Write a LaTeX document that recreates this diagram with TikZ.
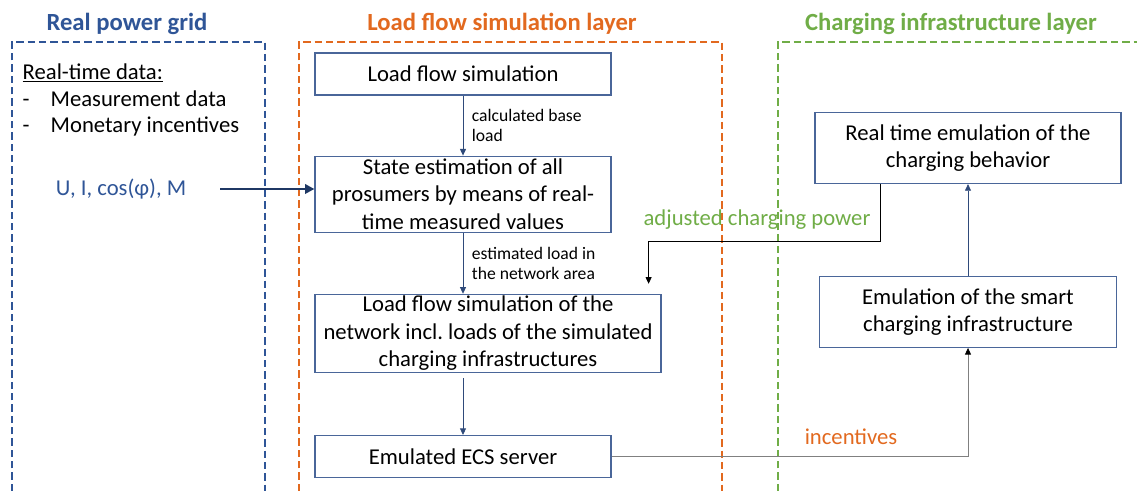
\documentclass[tikz,border=0pt]{standalone}
\usepackage{fontspec}
\setmainfont{Carlito}
\usetikzlibrary{positioning, arrows.meta}

\definecolor{gridblue}{HTML}{2F5597}
\definecolor{simorange}{HTML}{E2691F}
\definecolor{chargreen}{HTML}{70AD47}
\definecolor{boxblue}{HTML}{4A6699}
\definecolor{arrowblue}{HTML}{2F4A7A}
\definecolor{feednavy}{HTML}{1F3864}

\tikzset{
  block/.style={draw=boxblue, line width=0.9pt, align=center, inner sep=0pt,
    font=\fontsize{17}{20.5}\selectfont},
  layer/.style={dash pattern=on 5.5pt off 3pt, line width=2pt},
  title/.style={font=\bfseries\fontsize{18.5}{22}\selectfont},
  note/.style={font=\fontsize{13.2}{15}\selectfont, align=left},
  side/.style={anchor=west, font=\fontsize{17}{20}\selectfont},
  flow/.style={draw=arrowblue, line width=0.65pt, -{Triangle[length=5pt,width=4.5pt]}},
}

\begin{document}
\begin{tikzpicture}[x=0.75pt, y=-0.75pt]
    \useasboundingbox (0,0) rectangle (1137,491);

    % layers
    \draw[layer, gridblue] (12,491) -- (12,42) -- (265,42) -- (265,491);
    \draw[layer, simorange] (299,491) -- (299,42) -- (722,42) -- (722,491);
    \draw[layer, chargreen] (778,491) -- (778,42) -- (1137,42);
    \node[title, text=gridblue] (tgrid) at (127,24) {Real power grid};
    \node[title, text=simorange] (tsim) at (502,24) {Load flow simulation layer};
    \node[title, text=chargreen] (tchar) at (951,24) {Charging infrastructure layer};

    % real power grid
    \node[side] (rtd) at (18,73) {\underline{Real-time data:}};
    \node[side] (mdata) at (18,99) {\makebox[21pt][l]{-}Measurement data};
    \node[side] (mon) at (18,126) {\makebox[21pt][l]{-}Monetary incentives};
    \node[text=gridblue, font=\fontsize{17}{20}\selectfont] (meas) at (121,189) {U, I, cos(φ), M};

    % load flow simulation layer
    \node[block, minimum width=222pt, minimum height=31.5pt] (sim) at (463,74) {Load flow simulation};
    \node[block, minimum width=222pt, minimum height=57pt] (est) [below=45pt of sim]
        {State estimation of all\\prosumers by means of real-\\time measured values};
    \node[block, minimum width=259.5pt, minimum height=58.5pt] (net)
        [below=45.75pt of est.south west, anchor=north west]
        {Load flow simulation of the\\network incl.\ loads of the simulated\\charging infrastructures};
    \node[block, minimum width=222pt, minimum height=31.5pt] (ecs)
        [below=46.5pt of net.south west, anchor=north west] {Emulated ECS server};

    % charging infrastructure layer
    \node[block, minimum width=223pt, minimum height=53pt] (smart) at (968,312)
        {Emulation of the smart\\charging infrastructure};
    \node[block, minimum width=229.5pt, minimum height=53pt] (rte) [above=69pt of smart]
        {Real time emulation of the\\charging behavior};
    \coordinate (adj) at ([xshift=-9.75pt, yshift=7.5pt]net.north east);

    \draw[flow] (sim) -- node[note, right=3pt] {calculated base\\load} (est);
    \draw[flow] (est.south) -- node[note, right=3pt] {estimated load in\\the network area} (est.south |- net.north);
    \draw[flow, shorten <=4pt] (ecs.north |- net.south) -- (ecs.north);
    \draw[flow] (smart) -- (rte);
    \draw[feednavy, line width=2.2pt, shorten <=22pt, -{Triangle[length=7pt,width=7pt]}]
        (meas.east) -- (meas.east -| est.west);

    \draw[black, line width=0.6pt, -{Triangle[length=5pt,width=4.5pt]}]
        ([xshift=49.5pt]rte.south west) -- ++(0,57) -| (adj);
    \node[text=chargreen, font=\fontsize{17}{20}\selectfont] (adjlabel) at (757,220) {adjusted charging power};

    \draw[gray, line width=0.6pt, -{Triangle[length=5pt,width=4.5pt,color=black]}]
        (ecs.east) -| (smart.south);
    \node[text=simorange, font=\fontsize{17}{20}\selectfont] (inclabel) at (851,437) {incentives};
\end{tikzpicture}
\end{document}
